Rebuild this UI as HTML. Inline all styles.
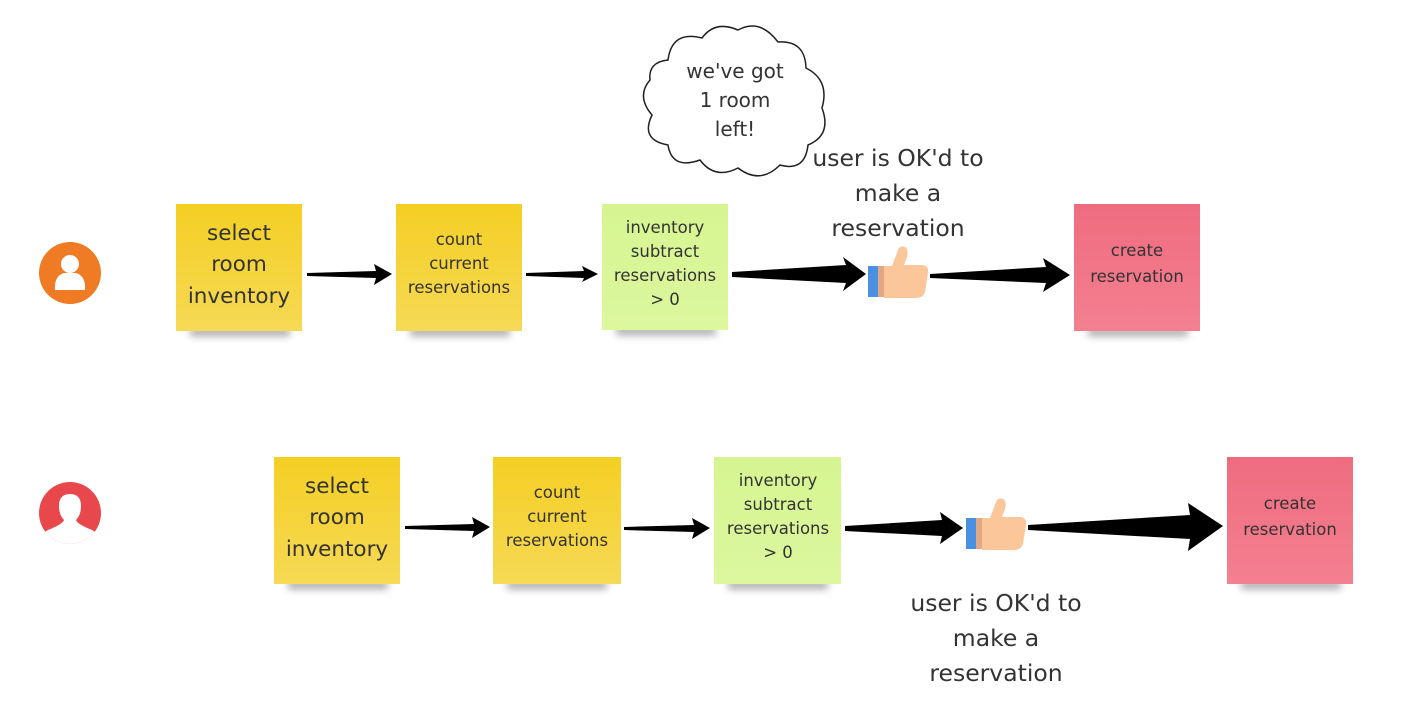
<!DOCTYPE html>
<html><head><meta charset="utf-8"><style>
html,body{margin:0;padding:0;background:#fff;}
svg{display:block;}
text{font-family:"DejaVu Sans","Liberation Sans",sans-serif;fill:#333;text-anchor:middle;}
</style></head><body>
<svg width="1412" height="708" viewBox="0 0 1412 708" xmlns="http://www.w3.org/2000/svg">
<defs>
<linearGradient id="gy" x1="0" y1="0" x2="0" y2="1"><stop offset="0" stop-color="#f4cf23"/><stop offset="1" stop-color="#f6d955"/></linearGradient>
<linearGradient id="gg" x1="0" y1="0" x2="0" y2="1"><stop offset="0" stop-color="#d6f591"/><stop offset="1" stop-color="#dcf79e"/></linearGradient>
<linearGradient id="gp" x1="0" y1="0" x2="0" y2="1"><stop offset="0" stop-color="#ef6c7f"/><stop offset="1" stop-color="#f38090"/></linearGradient>
<filter id="sh" x="-20%" y="-100%" width="140%" height="300%"><feGaussianBlur stdDeviation="4"/></filter>
<clipPath id="cr"><circle cx="70" cy="513" r="31"/></clipPath>
<g id="thumb">
<rect x="0" y="20" width="10" height="31" fill="#4a90e2"/>
<rect x="10" y="20" width="6" height="31" fill="#e2a886"/>
<path d="M16 20 L24 20 L30 4 Q32 -1 37 1 Q41 3 39 11 L36 19 L55 19 Q61 20 60 27 L57 46 Q55 52 48 52 L16 52 Z" fill="#fcc69b"/>
</g>
</defs>

<g fill="#000" opacity="0.35" filter="url(#sh)">
<rect x="190" y="328" width="100" height="8"/>
<rect x="410" y="328" width="100" height="8"/>
<rect x="616" y="327" width="100" height="8"/>
<rect x="1088" y="328" width="100" height="8"/>
<rect x="288" y="581" width="100" height="8"/>
<rect x="507" y="581" width="100" height="8"/>
<rect x="728" y="581" width="100" height="8"/>
<rect x="1241" y="581" width="100" height="8"/>
</g>

<rect x="176" y="204" width="126" height="127" fill="url(#gy)"/>
<rect x="396" y="204" width="126" height="127" fill="url(#gy)"/>
<rect x="602" y="204" width="126" height="126" fill="url(#gg)"/>
<rect x="1074" y="204" width="126" height="127" fill="url(#gp)"/>
<rect x="274" y="457" width="126" height="127" fill="url(#gy)"/>
<rect x="493" y="457" width="128" height="127" fill="url(#gy)"/>
<rect x="714" y="457" width="127" height="127" fill="url(#gg)"/>
<rect x="1227" y="457" width="126" height="127" fill="url(#gp)"/>

<g font-size="21.5">
<text x="239" y="240">select</text>
<text x="239" y="271">room</text>
<text x="239" y="303">inventory</text>
<text x="337" y="493">select</text>
<text x="337" y="524">room</text>
<text x="337" y="556">inventory</text>
</g>
<g font-size="16.5">
<text x="459" y="245">count</text>
<text x="459" y="269">current</text>
<text x="459" y="293">reservations</text>
<text x="665" y="233">inventory</text>
<text x="665" y="257">subtract</text>
<text x="665" y="281">reservations</text>
<text x="665" y="305">&gt; 0</text>
<text x="1137" y="256">create</text>
<text x="1137" y="282">reservation</text>
<text x="557" y="498">count</text>
<text x="557" y="522">current</text>
<text x="557" y="546">reservations</text>
<text x="778" y="486">inventory</text>
<text x="778" y="510">subtract</text>
<text x="778" y="534">reservations</text>
<text x="778" y="558">&gt; 0</text>
<text x="1290" y="509">create</text>
<text x="1290" y="535">reservation</text>
</g>
<g font-size="23.5">
<text x="898" y="166">user is OK'd to</text>
<text x="898" y="201">make a</text>
<text x="898" y="236">reservation</text>
<text x="996" y="611">user is OK'd to</text>
<text x="996" y="646">make a</text>
<text x="996" y="681">reservation</text>
</g>

<g fill="#000">
<polygon points="307,273 376,271 374,264 392,274 374,285 376,278 307,276"/>
<polygon points="526,273 584,271 582,266 598,274 582,282 584,278 526,276"/>
<polygon points="732,272 846,265 843,257 866,274 843,291 846,283 732,277"/>
<polygon points="930,274 1046,267 1043,258 1070,275 1043,292 1046,283 930,278"/>
<polygon points="405,526 474,524 472,517 490,527 472,538 474,531 405,529"/>
<polygon points="624,527 694,525 692,518 710,528 692,539 694,532 624,530"/>
<polygon points="845,526 942,520 940,512 963,528 940,544 942,536 845,531"/>
<polygon points="1028,525 1190,515 1188,503 1223,526 1188,551 1190,539 1028,530"/>
</g>

<use href="#thumb" x="868" y="246"/>
<use href="#thumb" x="966" y="498"/>

<circle cx="70" cy="273" r="31" fill="#ef7b24"/>
<circle cx="70" cy="264" r="9" fill="#fff"/>
<path d="M55 290 Q54 276 64 273 L76 273 Q86 276 85 290 Z" fill="#fff"/>
<circle cx="70" cy="513" r="31" fill="#e8474c"/>
<path clip-path="url(#cr)" d="M70 494 Q81 494 81 506 Q81 515 76 520 Q77 524 92 530 Q102 535 102 550 L38 550 Q38 535 48 530 Q63 524 64 520 Q59 515 59 506 Q59 494 70 494 Z" fill="#fff"/>

<path d="M668 60 Q672 30 702 38 Q715 20 738 30 Q760 18 778 42 Q805 40 806 68 Q830 80 822 108 Q832 135 808 145 Q805 172 780 165 Q760 185 738 168 Q715 180 700 160 Q672 170 668 145 Q640 140 652 115 Q636 96 650 80 Q648 62 668 60 Z" fill="#fff" stroke="#222" stroke-width="1.5"/>
<g font-size="20">
<text x="735" y="78">we've got</text>
<text x="735" y="107">1 room</text>
<text x="735" y="136">left!</text>
</g>
</svg>
</body></html>
